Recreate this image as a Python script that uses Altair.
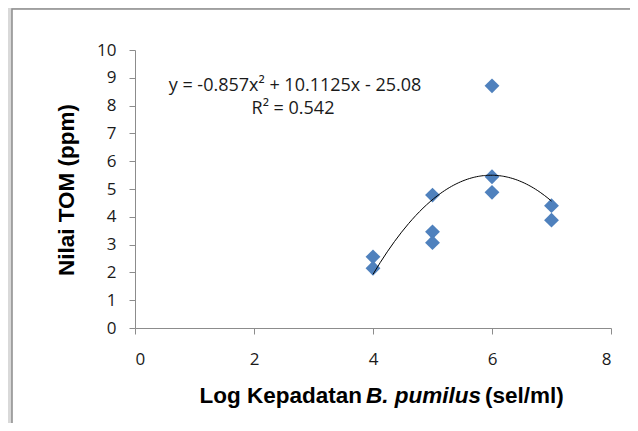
import altair as alt
import pandas as pd

# Data
x_vals = [4, 4, 5, 5, 5, 6, 6, 6, 7, 7]
y_vals = [2.56, 2.15, 4.78, 3.46, 3.07, 8.71, 5.44, 4.88, 4.40, 3.88]
x_ticks = [0, 2, 4, 6, 8]
y_ticks = [0, 1, 2, 3, 4, 5, 6, 7, 8, 9, 10]
equation_text = "y = -0.857x² + 10.1125x - 25.08"
r2_text = "R² = 0.542"
y_title = "Nilai TOM (ppm)"
x_title_parts = ["Log Kepadatan", "B. pumilus", "(sel/ml)"]

df = pd.DataFrame({"x": x_vals, "y": y_vals})
one = alt.Data(values=[{"k": 1}])

AXIS_GREY = "#8c8c8c"
TICK_FONT = "Open Sans"
TITLE_FONT = "Liberation Sans"
TFS = 22.5

xscale = alt.Scale(domain=[0, 8], nice=False, zero=False)
yscale = alt.Scale(domain=[0, 10], nice=False)

x_axis = alt.Axis(values=x_ticks, format="d", title=None, grid=False, zindex=1,
                  domainColor=AXIS_GREY, tickColor=AXIS_GREY, tickSize=6,
                  labelFont=TICK_FONT, labelFontSize=17, labelColor="#1a1a1a",
                  labelPadding=17, labelOverlap=False)
y_axis = alt.Axis(values=y_ticks, format="d", title=None, grid=False, zindex=1,
                  domainColor=AXIS_GREY, tickColor=AXIS_GREY, tickSize=6,
                  labelFont=TICK_FONT, labelFontSize=17, labelColor="#1a1a1a",
                  labelPadding=13, labelOverlap=False)

frame = alt.Chart(one).mark_rect(
    fill="white", stroke=AXIS_GREY, strokeWidth=1.5
).encode(
    x=alt.value(-123), x2=alt.value(700), y=alt.value(-41), y2=alt.value(500)
)

points = alt.Chart(df).mark_point(
    shape="diamond", filled=True, size=220, color="#4F81BD", opacity=1
).encode(
    x=alt.X("x:Q", scale=xscale, axis=x_axis),
    y=alt.Y("y:Q", scale=yscale, axis=y_axis),
)

trend = alt.Chart(df).transform_regression(
    "x", "y", method="poly", order=2
).mark_line(color="black", strokeWidth=1).encode(
    x=alt.X("x:Q", scale=xscale, axis=x_axis),
    y=alt.Y("y:Q", scale=yscale, axis=y_axis),
)

eq = alt.Chart(one).mark_text(
    text=equation_text, font=TICK_FONT, fontSize=18, color="#1a1a1a",
    align="center", baseline="middle"
).encode(x=alt.value(160), y=alt.value(36))

r2 = alt.Chart(one).mark_text(
    text=r2_text, font=TICK_FONT, fontSize=18, color="#1a1a1a",
    align="center", baseline="middle"
).encode(x=alt.value(158), y=alt.value(59))

ytitle = alt.Chart(one).mark_text(
    text=y_title, font=TITLE_FONT, fontSize=TFS, fontWeight="bold", color="black",
    align="center", baseline="middle", angle=270
).encode(x=alt.value(-68), y=alt.value(140))

xt1 = alt.Chart(one).mark_text(
    text=x_title_parts[0], font=TITLE_FONT, fontSize=TFS, fontWeight="bold",
    color="black", align="right", baseline="alphabetic"
).encode(x=alt.value(227), y=alt.value(353))
xt2 = alt.Chart(one).mark_text(
    text=x_title_parts[1], font=TITLE_FONT, fontSize=TFS, fontWeight="bold",
    fontStyle="italic", color="black", align="left", baseline="alphabetic"
).encode(x=alt.value(231), y=alt.value(353))
xt3 = alt.Chart(one).mark_text(
    text=x_title_parts[2], font=TITLE_FONT, fontSize=TFS, fontWeight="bold",
    color="black", align="left", baseline="alphabetic"
).encode(x=alt.value(350), y=alt.value(353))

chart = alt.layer(frame, points, trend, eq, r2, ytitle, xt1, xt2, xt3).properties(
    width=476, height=278,
    autosize=alt.AutoSizeParams(type="none"),
    padding={"left": 127, "top": 42, "right": 19, "bottom": 95},
    background="#d9d9d9",
).configure_view(stroke=None)

chart.save("out.html", embed_options={"renderer": "svg", "actions": False})
